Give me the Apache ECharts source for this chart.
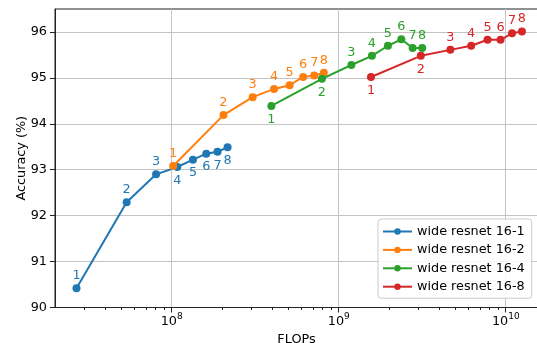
<!DOCTYPE html>
<html>
<head>
<meta charset="utf-8">
<script src="https://cdn.jsdelivr.net/npm/echarts@6/dist/echarts.min.js"></script>
<style>
  html, body { margin: 0; padding: 0; background: #fff; }
  #chart { width: 537px; height: 343px; }
</style>
</head>
<body>
<div id="chart"></div>
<script>
// data
const seriesNames = ['wide resnet 16-1', 'wide resnet 16-2', 'wide resnet 16-4', 'wide resnet 16-8'];
const pointLabels = ['1', '2', '3', '4', '5', '6', '7', '8'];

const flops16_1 = [2.69e7, 5.37e7, 8.06e7, 1.08e8, 1.34e8, 1.61e8, 1.88e8, 2.16e8];
const acc16_1 = [90.42, 92.29, 92.90, 93.06, 93.22, 93.35, 93.39, 93.49];

const flops16_2 = [1.02e8, 2.04e8, 3.05e8, 4.10e8, 5.08e8, 6.12e8, 7.13e8, 8.14e8];
const acc16_2 = [93.08, 94.19, 94.58, 94.76, 94.84, 95.02, 95.05, 95.11];

const flops16_4 = [3.95e8, 7.93e8, 1.19e9, 1.58e9, 1.97e9, 2.37e9, 2.77e9, 3.16e9];
const acc16_4 = [94.39, 94.98, 95.28, 95.48, 95.70, 95.84, 95.65, 95.65];

const flops16_8 = [1.56e9, 3.10e9, 4.66e9, 6.21e9, 7.78e9, 9.31e9, 1.09e10, 1.25e10];
const acc16_8 = [95.02, 95.48, 95.61, 95.70, 95.83, 95.83, 95.97, 96.01];

const majorTicks = [1e8, 1e9, 1e10];

const colors = ['#1f77b4', '#ff7f0e', '#2ca02c', '#d62728'];
// which labels sit under the point
const labelsBelow = [
  [false, false, false, true, true, true, true, true],
  [false, false, false, false, false, false, false, false],
  [true, true, false, false, false, false, false, false],
  [true, true, false, false, false, false, false, false]
];

const xMin = 2.0e7, xMax = 1.56e10;
const minorTicks = [];
for (let k = 7; k <= 10; k++) {
  for (let m = 2; m <= 9; m++) {
    const v = m * Math.pow(10, k);
    if (v > xMin && v < xMax) minorTicks.push(v);
  }
}

const font = 'DejaVu Sans';
const fs = 12.8;

function buildData(xs, ys, below) {
  return xs.map((x, i) => ({
    value: [x, ys[i]],
    label: below[i] ? { position: 'bottom', distance: 3 } : { position: 'top', distance: 2 }
  }));
}

const allFlops = [flops16_1, flops16_2, flops16_4, flops16_8];
const allAcc = [acc16_1, acc16_2, acc16_4, acc16_8];

const series = seriesNames.map((name, s) => ({
  name: name,
  type: 'line',
  xAxisIndex: 0,
  yAxisIndex: 0,
  data: buildData(allFlops[s], allAcc[s], labelsBelow[s]),
  symbol: 'circle',
  symbolSize: 8,
  lineStyle: { width: 2, color: colors[s] },
  itemStyle: { color: colors[s] },
  label: {
    show: true,
    color: colors[s],
    fontFamily: font,
    fontSize: fs,
    formatter: p => pointLabels[p.dataIndex]
  },
  emphasis: { disabled: true },
  animation: false,
  z: 3 + s
}));

const chart = echarts.init(document.getElementById('chart'), null, { renderer: 'canvas' });

chart.setOption({
  animation: false,
  color: colors,
  grid: {
    left: 55, right: -1, top: 9, bottom: 35.5,
    outerBoundsMode: 'none',
    containLabel: false,
    show: true, borderColor: '#222', borderWidth: 1, backgroundColor: 'transparent'
  },
  legend: {
    orient: 'vertical',
    left: 378, top: 219,
    itemWidth: 29, itemHeight: 8, itemGap: 5.4,
    padding: [6, 7, 5, 4],
    backgroundColor: 'rgba(255,255,255,0.85)',
    borderColor: '#cccccc', borderWidth: 1, borderRadius: 3,
    textStyle: { fontFamily: font, fontSize: fs, color: '#000' },
    data: seriesNames
  },
  xAxis: [{
    type: 'log',
    logBase: 10,
    min: xMin, max: xMax,
    name: 'FLOPs',
    nameLocation: 'middle',
    nameGap: 21,
    nameTextStyle: { fontFamily: font, fontSize: fs, color: '#000' },
    axisLine: { show: true, lineStyle: { color: '#222', width: 1 } },
    axisTick: { show: true, length: 5, inside: false, lineStyle: { color: '#222' }, customValues: majorTicks },
    axisLabel: {
      customValues: majorTicks,
      margin: 5,
      formatter: v => '{b|10}{s|' + Math.round(Math.log10(v)) + '}',
      rich: {
        b: { fontFamily: font, fontSize: fs, color: '#000', verticalAlign: 'bottom' },
        s: { fontFamily: font, fontSize: 9, color: '#000', verticalAlign: 'top', padding: [0, 0, 7, 0] }
      }
    },
    splitLine: { show: true, showMinLine: true, showMaxLine: true, lineStyle: { color: '#c4c4c4', width: 1 } },
    minorTick: { show: false }
  }, {
    type: 'log',
    logBase: 10,
    min: xMin, max: xMax,
    position: 'bottom',
    axisLine: { show: false },
    axisTick: { show: true, length: 2.5, lineStyle: { color: '#222' }, customValues: minorTicks },
    axisLabel: { show: false },
    splitLine: { show: false }
  }],
  yAxis: {
    type: 'value',
    min: 90, max: 96.5, interval: 1,
    name: 'Accuracy (%)',
    nameLocation: 'middle',
    nameGap: 27,
    nameMoveOverlap: false,
    nameTextStyle: { fontFamily: font, fontSize: fs, color: '#000' },
    axisLine: { show: true, lineStyle: { color: '#222', width: 1 } },
    axisTick: { show: true, length: 5, lineStyle: { color: '#222' } },
    axisLabel: { margin: 8, fontFamily: font, fontSize: fs, color: '#000', showMaxLabel: false },
    splitLine: { show: true, showMinLine: false, showMaxLine: false, lineStyle: { color: '#c4c4c4', width: 1 } }
  },
  series: series
});
</script>
</body>
</html>
